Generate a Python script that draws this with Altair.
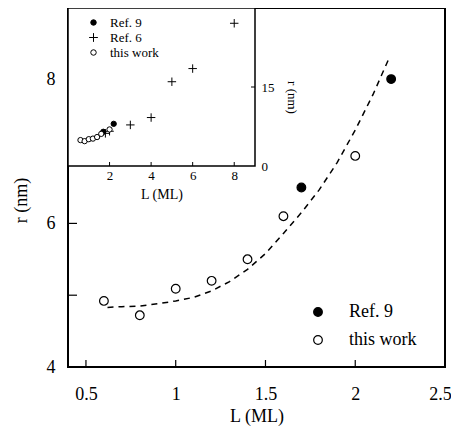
import altair as alt
import pandas as pd

FONT = "Liberation Serif"

# ---- data ----
this_L = [0.6, 0.8, 1.0, 1.2, 1.4, 1.6, 2.0]
this_r = [4.92, 4.72, 5.09, 5.20, 5.50, 6.10, 6.94]
ref9_L = [1.7, 2.2]
ref9_r = [6.50, 8.01]
ref6_L = [1.8, 2.0, 3.0, 4.0, 5.0, 6.0, 8.0]
ref6_r = [6.2, 6.6, 7.8, 9.2, 16.0, 18.5, 27.1]
fit_L = [0.62, 0.7, 0.8, 0.9, 1.0, 1.1, 1.2, 1.3, 1.4, 1.5, 1.6, 1.7, 1.8, 1.9, 2.0, 2.1, 2.19]
fit_r = [4.83, 4.84, 4.85, 4.88, 4.92, 4.97, 5.06, 5.19, 5.36, 5.58, 5.86, 6.15, 6.47, 6.85, 7.3, 7.8, 8.31]

main_xticks = [0.5, 1.0, 1.5, 2.0]
main_yticks = [5, 6, 7, 8]
inset_xticks = [2, 4, 6, 8]
inset_yticks = [15]
series_inset = ["Ref. 9", "Ref. 6", "this work"]

W, H = 377, 359
IW, IH = 187, 158

main_pts = pd.DataFrame({
    "L": ref9_L + this_L,
    "r": ref9_r + this_r,
    "series": ["Ref. 9"] * len(ref9_L) + ["this work"] * len(this_L),
})
fit_df = pd.DataFrame({"L": fit_L, "r": fit_r})
inset_pts = pd.DataFrame({
    "L": ref9_L + ref6_L + this_L,
    "r": ref9_r + ref6_r + this_r,
    "series": ["Ref. 9"] * len(ref9_L) + ["Ref. 6"] * len(ref6_L) + ["this work"] * len(this_L),
})

mx = alt.Scale(domain=[0.4, 2.5], nice=False, zero=False)
my = alt.Scale(domain=[4, 9], nice=False, zero=False)

main_legend = alt.Legend(orient="none", legendX=241, legendY=295, title=None,
                         symbolSize=75, symbolStrokeWidth=1.2,
                         symbolType="circle", labelFont=FONT, labelFontSize=18,
                         labelColor="black", rowPadding=10, padding=0, labelOffset=22)

main_points = alt.Chart(main_pts).mark_point(
    filled=False, strokeWidth=1.2, size=75, shape="circle", opacity=1
).encode(
    x=alt.X("L:Q", scale=mx, axis=alt.Axis(
        values=[0.5, 1, 1.5, 2, 2.5], format="~g", title="L  (ML)", ticks=False, domain=False,
        grid=False, labelFont=FONT, labelFontSize=18, labelColor="black", labelPadding=18,
        labelOffset={"condition": {"test": "datum.value == 2.5", "value": -5}, "value": 0},
        titleFont=FONT, titleFontSize=18, titleFontWeight="normal", titleColor="black", titlePadding=4,
        labelFlush=False)),
    y=alt.Y("r:Q", scale=my, axis=alt.Axis(
        values=[4, 6, 8], format="~g", title="r  (nm)", ticks=False, domain=False, grid=False,
        labelFont=FONT, labelFontSize=18, labelColor="black", labelPadding=13,
        titleFont=FONT, titleFontSize=18, titleFontWeight="normal", titleColor="black", titlePadding=16,
        titleY=192, labelFlush=False)),
    fill=alt.Fill("series:N", scale=alt.Scale(domain=["Ref. 9", "this work"], range=["black", "white"]),
                  legend=main_legend),
    stroke=alt.Stroke("series:N", scale=alt.Scale(domain=["Ref. 9", "this work"], range=["black", "black"]),
                      legend=main_legend),
)

fit_line = alt.Chart(fit_df).mark_line(
    color="black", strokeWidth=1.5, strokeDash=[6, 5]
).encode(x=alt.X("L:Q", scale=mx), y=alt.Y("r:Q", scale=my))

mxt = alt.Chart(pd.DataFrame({"t": main_xticks})).mark_rule(color="black", strokeWidth=1.2).encode(
    x=alt.X("t:Q", scale=mx), y=alt.value(H), y2=alt.value(H - 7))
myt = alt.Chart(pd.DataFrame({"t": main_yticks})).mark_rule(color="black", strokeWidth=1.2).encode(
    y=alt.Y("t:Q", scale=my), x=alt.value(0), x2=alt.value(9))

main = alt.layer(fit_line, main_points, mxt, myt)

ix = alt.Scale(domain=[0, 9], range=[0, IW], nice=False, zero=False)
iy = alt.Scale(domain=[0, 30], range=[IH, 0], nice=False, zero=False)

frame = alt.Chart(pd.DataFrame({"x0": [0], "x1": [9], "y0": [0], "y1": [30]})).mark_rect(
    fill="white", stroke="black", strokeWidth=1.5
).encode(
    x=alt.X("x0:Q", scale=ix, axis=alt.Axis(
        orient="bottom", offset=IH - H, values=inset_xticks, title="L  (ML)", ticks=False,
        domain=False, grid=False, labelFont=FONT, labelFontSize=13, labelColor="black",
        labelPadding=3, titleFont=FONT, titleFontSize=14, titleFontWeight="normal",
        titleColor="black", titlePadding=5)),
    x2="x1:Q",
    y=alt.Y("y0:Q", scale=iy, axis=alt.Axis(
        orient="right", offset=IW - W, values=[0, 15], title="r  (nm)", ticks=False,
        domain=False, grid=False, labelFont=FONT, labelFontSize=13, labelColor="black",
        labelPadding=6, titleFont=FONT, titleFontSize=13, titleFontWeight="normal",
        titleColor="black", titlePadding=10, titleAngle=90, titleY=89, labelFlush=False)),
    y2="y1:Q",
)

inset_legend = alt.Legend(
    orient="none", legendX=19, legendY=8, title=None, symbolSize=30,
    symbolStrokeWidth=1, labelFont=FONT, labelFontSize=13,
    labelColor="black", rowPadding=1, padding=0, labelOffset=10)

inset_points = alt.Chart(inset_pts).mark_point(
    strokeWidth=1, size=28, opacity=1, filled=False
).encode(
    x=alt.X("L:Q", scale=ix),
    y=alt.Y("r:Q", scale=iy),
    shape=alt.Shape("series:N", scale=alt.Scale(
        domain=series_inset, range=["circle", "M-1.6,0H1.6M0,-1.6V1.6", "circle"]),
        legend=inset_legend),
    fill=alt.Fill("series:N", scale=alt.Scale(
        domain=series_inset, range=["black", "transparent", "white"]), legend=inset_legend),
    stroke=alt.Stroke("series:N", scale=alt.Scale(
        domain=series_inset, range=["black", "black", "black"]), legend=inset_legend),
)

ixt = alt.Chart(pd.DataFrame({"t": inset_xticks})).mark_rule(color="black", strokeWidth=1).encode(
    x=alt.X("t:Q", scale=ix), y=alt.value(IH), y2=alt.value(IH - 4))
iyt = alt.Chart(pd.DataFrame({"t": inset_yticks})).mark_rule(color="black", strokeWidth=1).encode(
    y=alt.Y("t:Q", scale=iy), x=alt.value(IW), x2=alt.value(IW - 4))

inset = alt.layer(frame, inset_points, ixt, iyt)

chart = alt.layer(main, inset).resolve_scale(
    x="independent", y="independent", fill="independent", shape="independent",
    stroke="independent"
).properties(
    width=W, height=H, autosize="none",
    padding={"left": 60, "top": 0, "right": 6, "bottom": 62},
    background="white",
).configure_view(stroke="black", strokeWidth=2)

chart.save("out.html", embed_options={"renderer": "svg", "actions": False})
